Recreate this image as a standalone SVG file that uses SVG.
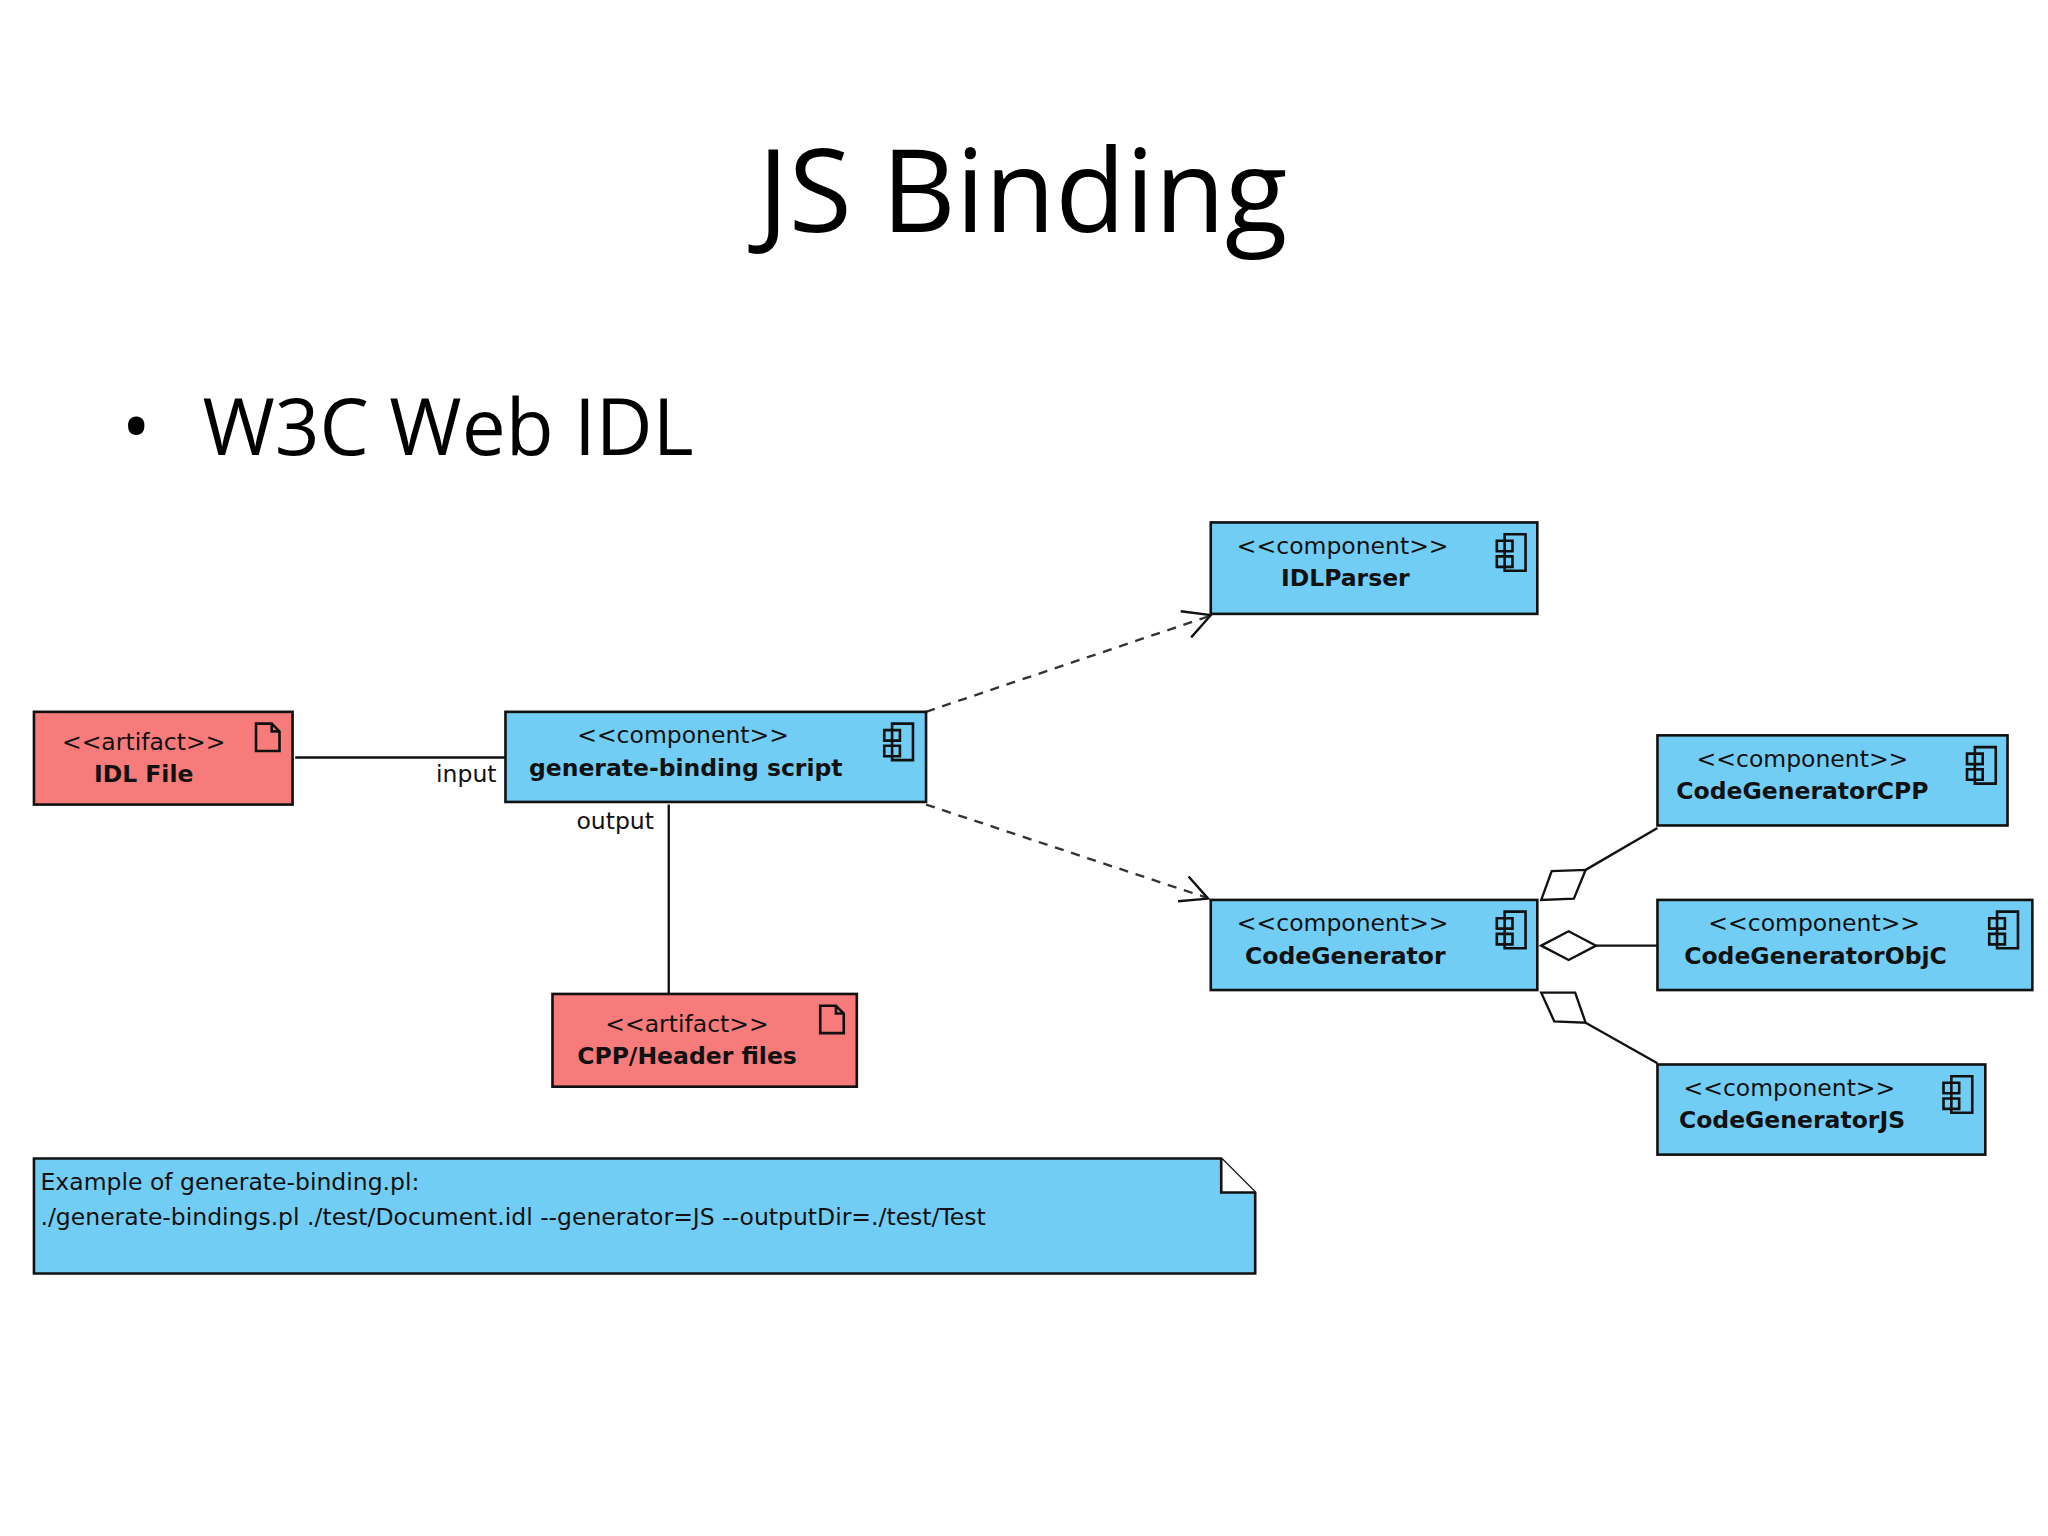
<svg xmlns="http://www.w3.org/2000/svg" width="2048" height="1536" viewBox="0 0 2048 1536">
<style>
.b{fill:#72CDF4;stroke:#111;stroke-width:2}
.r{fill:#F87B7B;stroke:#111;stroke-width:2}
.t{font-family:"DejaVu Sans",sans-serif;font-size:18px;fill:#111;text-anchor:middle}
.n{font-weight:bold}
.ic{fill:none;stroke:#111;stroke-width:2}
.l{fill:none;stroke:#111;stroke-width:1.8}
.d{fill:none;stroke:#333;stroke-width:1.8;stroke-dasharray:7 6}
.dm{fill:#fff;stroke:#111;stroke-width:1.8}
</style>
<rect width="2048" height="1536" fill="#fff"/>
<g transform="scale(1.30612)">
<text x="783" y="178" font-family="Open Sans, sans-serif" font-size="88" text-anchor="middle" fill="#000">JS Binding</text>
<text x="93" y="348" font-family="Open Sans, sans-serif" font-size="60" fill="#000">•</text>
<text x="155" y="348" font-family="Open Sans, sans-serif" font-size="60" fill="#000">W3C Web IDL</text>

<g id="connectors">
<line class="l" x1="226" y1="580" x2="387" y2="580"/>
<text class="t" x="357" y="599">input</text>
<text class="t" x="471" y="635">output</text>
<line class="l" x1="512" y1="616" x2="512" y2="761"/>
<line class="d" x1="709" y1="545" x2="925" y2="472"/>
<polyline class="l" points="904,468 927,471 912,488"/>
<line class="d" x1="709" y1="616" x2="923" y2="687"/>
<polyline class="l" points="910,671 925,688 902,690"/>
<polygon class="dm" points="1180,689 1188,667 1214,666 1205,688"/>
<line class="l" x1="1214" y1="666" x2="1269" y2="634"/>
<polygon class="dm" points="1180,724 1201,713 1222,724 1201,735"/>
<line class="l" x1="1222" y1="724" x2="1269" y2="724"/>
<polygon class="dm" points="1180,760 1206,760 1214,783 1190,782"/>
<line class="l" x1="1214" y1="783" x2="1269" y2="814"/>
</g>

<g id="idlfile">
<rect class="r" x="26" y="545" width="198" height="71"/>
<text class="t" x="110" y="574">&lt;&lt;artifact&gt;&gt;</text>
<text class="t n" x="110" y="599">IDL File</text>
<path class="ic" d="M196,554 H208 L214,560 V575 H196 Z M208,554 V560 H214"/>
</g>

<g id="genscript">
<rect class="b" x="387" y="545" width="322" height="69"/>
<text class="t" x="523" y="569">&lt;&lt;component&gt;&gt;</text>
<text class="t n" x="525" y="594">generate-binding script</text>
<path class="ic" d="M683,554 H699 V582 H683 Z M677,559 H689 V567 H677 Z M677,571 H689 V579 H677 Z"/>
</g>

<g id="cpp">
<rect class="r" x="423" y="761" width="233" height="71"/>
<text class="t" x="526" y="790">&lt;&lt;artifact&gt;&gt;</text>
<text class="t n" x="526" y="815">CPP/Header files</text>
<path class="ic" d="M628,770 H640 L646,776 V791 H628 Z M640,770 V776 H646"/>
</g>

<g id="idlparser">
<rect class="b" x="927" y="400" width="250" height="70"/>
<text class="t" x="1028" y="424">&lt;&lt;component&gt;&gt;</text>
<text class="t n" x="1030" y="449">IDLParser</text>
<path class="ic" d="M1152,409 H1168 V437 H1152 Z M1146,414 H1158 V422 H1146 Z M1146,426 H1158 V434 H1146 Z"/>
</g>

<g id="codegen">
<rect class="b" x="927" y="689" width="250" height="69"/>
<text class="t" x="1028" y="713">&lt;&lt;component&gt;&gt;</text>
<text class="t n" x="1030" y="738">CodeGenerator</text>
<path class="ic" d="M1152,698 H1168 V726 H1152 Z M1146,703 H1158 V711 H1146 Z M1146,715 H1158 V723 H1146 Z"/>
</g>

<g id="cgcpp">
<rect class="b" x="1269" y="563" width="268" height="69"/>
<text class="t" x="1380" y="587">&lt;&lt;component&gt;&gt;</text>
<text class="t n" x="1380" y="612">CodeGeneratorCPP</text>
<path class="ic" d="M1512,572 H1528 V600 H1512 Z M1506,577 H1518 V585 H1506 Z M1506,589 H1518 V597 H1506 Z"/>
</g>

<g id="cgobjc">
<rect class="b" x="1269" y="689" width="287" height="69"/>
<text class="t" x="1389" y="713">&lt;&lt;component&gt;&gt;</text>
<text class="t n" x="1390" y="738">CodeGeneratorObjC</text>
<path class="ic" d="M1529,698 H1545 V726 H1529 Z M1523,703 H1535 V711 H1523 Z M1523,715 H1535 V723 H1523 Z"/>
</g>

<g id="cgjs">
<rect class="b" x="1269" y="815" width="251" height="69"/>
<text class="t" x="1370" y="839">&lt;&lt;component&gt;&gt;</text>
<text class="t n" x="1372" y="864">CodeGeneratorJS</text>
<path class="ic" d="M1494,824 H1510 V852 H1494 Z M1488,829 H1500 V837 H1488 Z M1488,841 H1500 V849 H1488 Z"/>
</g>

<g id="note">
<path class="b" d="M26,887 H935 L961,913 V975 H26 Z"/>
<path class="ic" d="M935,887 V913 H961" fill="#fff" style="fill:#fff"/>
<text class="t" style="text-anchor:start" x="31" y="911">Example of generate-binding.pl:</text>
<text class="t" style="text-anchor:start" x="31" y="938">./generate-bindings.pl ./test/Document.idl --generator=JS --outputDir=./test/Test</text>
</g>
</g>
</svg>
